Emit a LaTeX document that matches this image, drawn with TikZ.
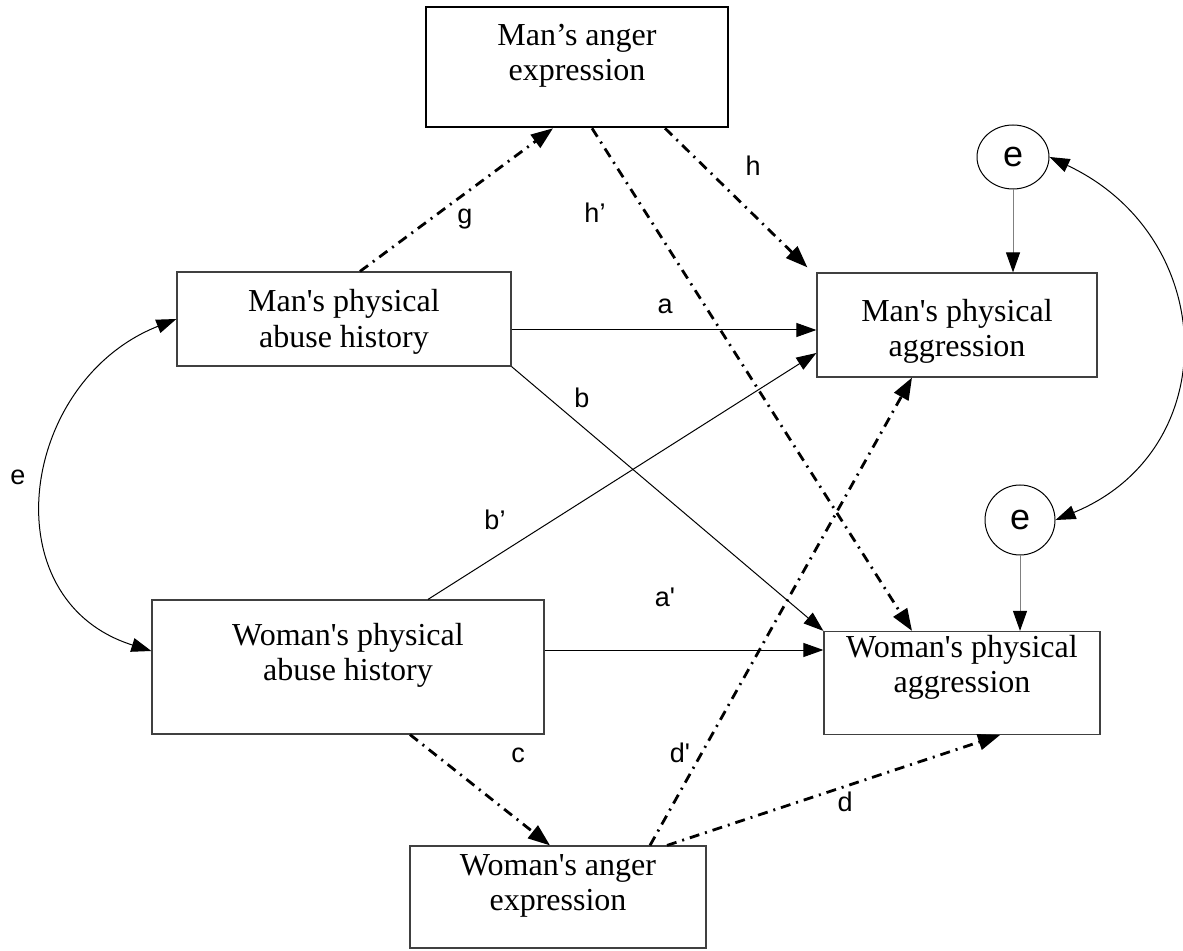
\documentclass[tikz,border=0pt]{standalone}
\usepackage{fontspec}
\setmainfont{Liberation Serif}
\newfontfamily\lblfont{Liberation Sans}
\usetikzlibrary{arrows.meta,shapes.geometric}

\begin{document}
\begin{tikzpicture}[x=0.5pt, y=-0.5pt,
  box/.style={draw=black!75, line width=0.6pt, inner sep=0pt},
  boxtxt/.style={align=center, inner sep=0pt, font=\fontsize{16}{17.5}\selectfont},
  lbl/.style={font=\lblfont\fontsize{13.5}{15}\selectfont, inner sep=0pt, anchor=base},
  solidarr/.style={line width=0.5pt, -{Triangle[length=10pt,width=7pt]}},
  dasharr/.style={line width=1.4pt, dash pattern=on 5pt off 3pt on 1pt off 3pt,
    -{Triangle[length=11pt,width=8pt]}},
  errarr/.style={gray, line width=0.5pt, -{Triangle[length=10pt,width=7pt,color=black]}},
  err/.style={draw, ellipse, line width=0.5pt, inner sep=0pt,
    font=\lblfont\fontsize{18}{18}\selectfont},
]
  \useasboundingbox (0,0) rectangle (1183,951);
  % boxes
  \node[box, draw=black, line width=1.3pt, minimum width=151pt, minimum height=60pt,
    label={[boxtxt, anchor=north, yshift=-9pt]north:Man’s anger\\expression}] (manAnger) at (577,67) {};
  \node[box, minimum width=167pt, minimum height=47pt,
    label={[boxtxt, anchor=north, yshift=-9pt]north:Man\textquotesingle s physical\\abuse history}] (manAbuse) at (344,319) {};
  \node[box, minimum width=140pt, minimum height=52pt,
    label={[boxtxt, anchor=north, yshift=-13.5pt]north:Man\textquotesingle s physical\\aggression}] (manAgg) at (957,325) {};
  \node[box, minimum width=196pt, minimum height=67pt,
    label={[boxtxt, anchor=north, yshift=-11.5pt]north:Woman\textquotesingle s physical\\abuse history}] (womAbuse) at (348,667) {};
  \node[box, minimum width=138pt, minimum height=51.5pt,
    label={[boxtxt, anchor=north, yshift=-2pt]north:Woman\textquotesingle s physical\\aggression}] (womAgg) at (962,683) {};
  \node[box, minimum width=148pt, minimum height=51pt,
    label={[boxtxt, anchor=north, yshift=-4.5pt]north:Woman\textquotesingle s anger\\expression}] (womAnger) at (558,897) {};
  % error terms
  \node[err, minimum width=36pt, minimum height=32pt] (errMan) at (1013,157) {e};
  \node[err, minimum width=35pt, minimum height=35pt] (errWom) at (1020,520) {e};
  \draw[errarr] (errMan.south) -- (errMan.south |- manAgg.north);
  \draw[errarr] (errWom.south) -- (errWom.south |- womAgg.north);
  \draw[line width=0.5pt, {Triangle[length=10pt,width=7pt]}-{Triangle[length=10pt,width=7pt]}]
    (errMan.east) .. controls +(170,80) and +(170,-70) .. (errWom.east);
  % covariance of abuse histories
  \draw[line width=0.5pt, {Triangle[length=10pt,width=7pt]}-{Triangle[length=10pt,width=7pt]}]
    (manAbuse.west) .. controls +(-157,62) and +(-162,-51) .. ([yshift=8pt]womAbuse.west);
  % direct paths
  \draw[solidarr] ([yshift=-5.5pt]manAbuse.east) -- ([yshift=-5.5pt]manAbuse.east -| manAgg.west);
  \draw[solidarr] (manAbuse.south east) -- (womAgg.north west);
  \draw[solidarr] ([xshift=40pt]womAbuse.north) -- ([yshift=-14pt]manAgg.west);
  \draw[solidarr] ([yshift=8.5pt]womAbuse.east) -- ([yshift=8.5pt]womAbuse.east -| womAgg.west);
  % anger paths
  \draw[dasharr] ([xshift=8pt]manAbuse.north) -- ([xshift=-12pt]manAnger.south);
  \draw[dasharr] ([xshift=44pt]manAnger.south) -- ([xshift=-4.5pt,yshift=2.5pt]manAgg.north west);
  \draw[dasharr] ([xshift=7.5pt]manAnger.south) -- ([xshift=-25pt]womAgg.north);
  \draw[dasharr] ([xshift=31pt]womAbuse.south) -- ([xshift=-4pt]womAnger.north);
  \draw[dasharr] ([xshift=46pt]womAnger.north) -- ([xshift=-22.5pt]manAgg.south);
  \draw[dasharr] ([xshift=54.5pt]womAnger.north) -- ([xshift=19pt]womAgg.south);
  % path labels
  \node[lbl] (lg) at (465,224) {g};
  \node[lbl] (lhp) at (595,223) {h’};
  \node[lbl] (lh) at (753,176) {h};
  \node[lbl] (la) at (665,314) {a};
  \node[lbl] (lb) at (582,408) {b};
  \node[lbl] (lbp) at (495,530) {b’};
  \node[lbl] (lap) at (665,607) {a\textquotesingle};
  \node[lbl] (lc) at (518,762) {c};
  \node[lbl] (ldp) at (680,762) {d\textquotesingle};
  \node[lbl] (ld) at (845,811) {d};
  \node[lbl] (le) at (18,485) {e};
\end{tikzpicture}
\end{document}
